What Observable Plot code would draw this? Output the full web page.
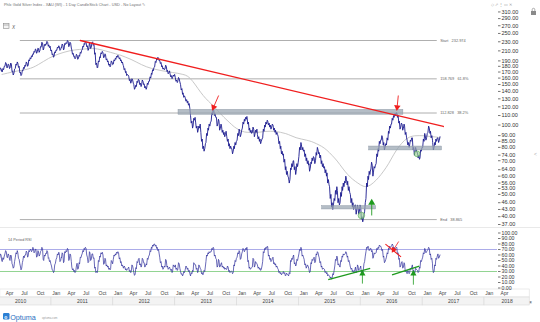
<!DOCTYPE html>
<html>
<head>
<meta charset="utf-8">
<script src="https://cdn.jsdelivr.net/npm/d3@7"></script>
<script src="https://cdn.jsdelivr.net/npm/@observablehq/plot@0.6"></script>
<style>
html,body{margin:0;padding:0;background:#fff;}
#wrap{position:relative;width:540px;height:322px;overflow:hidden;background:#fff;font-family:"Liberation Sans",Arial,sans-serif;}
#wrap > svg{position:absolute;left:0;top:0;}
</style>
</head>
<body>
<div id="wrap"></div>
<script>
// ---------- DATA ----------
const titleText = "Phlx Gold Silver Index - XAU (WI) - 1 Day CandleStick Chart - USD - No Layout";

// price samples: 8 per month from Mar 2010
const price2010 = [172,177,176,171,170,176,174,180, 180,187,185,177,178,184,183,176, 177,186,184,171,172,165,168,175, 176,184,182,188,186,178,180,169, 170,164,166,173,172,178,176,182, 180,188,186,180,182,192,190,196, 194,200,198,204,203,209,207,214, 213,205,208,216,215,207,210,219, 218,229,227,212,214,224,221,225, 224,231,229,220,223,217,220,210];
const price2011 = [212,202,204,197,199,208,206,212, 211,218,216,221,219,211,213,218, 217,225,223,212,214,226,224,228, 226,233,231,219,221,229,227,216, 212,203,205,198,199,194,196,203, 201,193,195,201,199,207,205,211, 212,220,218,226,224,231,229,219, 221,211,214,227,225,215,218,228, 230,222,224,203,206,183,186,177, 178,190,188,198,196,206,204,209, 206,196,198,204,202,192,194,188, 190,182,184,179,181,190,188,183];
const price2012 = [184,192,190,195,193,199,197,201, 199,194,196,190,192,186,188,182, 181,174,176,169,171,164,166,165, 163,156,158,152,154,159,157,152, 150,143,145,149,147,155,153,158, 157,150,152,147,149,157,155,150, 151,145,147,143,145,152,150,155, 155,162,160,168,166,174,172,178, 179,189,187,194,192,197,195,190, 191,185,187,179,181,175,177,174, 175,182,180,171,173,167,169,172, 167,162,164,159,161,165,163,166];
const price2013 = [161,155,157,153,155,161,159,154, 150,142,144,136,138,132,134,132, 131,127,129,125,127,122,124,118, 110,102,104,97,99,107,105,108, 103,97,99,93,95,99,97,101, 93,85,87,79,81,77,79,83, 84,92,90,97,95,101,99,103, 104,113,111,118,116,110,112,108, 108,99,101,106,104,95,97,101, 99,93,95,91,93,89,91,94, 89,85,87,81,83,79,81,79, 79,75,77,81,79,84,82,85];
const price2014 = [86,92,90,96,94,89,91,95, 97,103,101,106,104,108,106,109, 108,101,103,95,97,93,95,92, 93,98,96,89,91,95,93,96, 91,87,89,85,87,83,85,87, 88,96,94,100,98,103,101,105, 104,100,102,98,100,96,98,101, 100,95,97,93,95,91,93,91, 89,83,85,79,81,75,77,74, 75,69,71,64,66,61,63,60, 59,56,58,65,64,68,66,70, 70,64,66,61,63,68,66,69];
const price2015 = [73,80,78,84,82,78,80,77, 78,73,75,70,72,68,70,67, 68,63,65,69,68,72,70,73, 72,68,70,76,74,80,78,75, 76,72,74,68,70,66,68,65, 66,62,64,60,62,56,58,55, 54,48,50,44,46,43,45,48, 47,52,50,54,52,46,48,45, 46,51,49,54,52,56,54,57, 56,60,58,55,57,52,54,51, 50,46,48,44,46,43,44,45, 45,41,43,45,44,41,42,45];
const price2016 = [44,39,40,38,39,41,42,46, 48,56,54,60,58,63,61,64, 64,69,67,60,62,66,65,67, 68,75,73,79,77,85,83,86, 86,90,88,82,84,78,80,83, 82,88,86,94,92,99,97,101, 101,107,105,110,108,112,110,113, 113,108,110,102,104,96,98,102, 101,95,97,101,99,91,93,88, 86,82,84,80,82,86,85,88, 88,78,80,74,76,80,78,76, 76,72,74,71,72,78,77,80];
const price2017 = [80,87,85,92,90,86,88,92, 93,99,97,92,94,88,90,86, 84,78,80,84,82,87,85,88, 88,84,86,89];

// 14-period RSI samples, same dates as price
const rsi2010 = [55,62,60,50,48,55,52,58, 62,68,66,56,55,62,60,52, 50,60,58,44,42,36,38,48, 55,64,62,68,64,54,52,44, 40,33,36,46,50,58,55,60, 60,67,65,56,58,68,66,70, 70,66,68,74,72,64,66,71, 70,56,58,68,66,58,60,66, 68,74,72,52,50,60,58,63, 62,68,66,54,55,48,50,44];
const rsi2011 = [40,33,32,28,30,42,45,52, 55,62,60,65,62,48,50,56, 55,64,62,46,48,66,64,68, 66,72,70,50,52,62,60,48, 38,33,35,30,32,28,30,40, 45,34,36,46,44,56,55,60, 62,68,66,72,70,74,72,60, 56,46,48,66,64,50,52,62, 62,54,55,36,38,28,30,28, 33,50,48,58,56,64,62,65, 60,43,45,54,52,40,42,38, 40,34,36,33,35,50,48,44];
const rsi2012 = [52,60,58,62,60,65,63,66, 64,53,55,46,48,40,42,38, 36,40,38,33,35,32,34,36, 38,30,32,28,30,42,40,34, 28,23,25,37,35,48,46,52, 54,42,44,38,40,54,52,46, 46,38,40,44,42,54,52,58, 60,68,66,74,72,78,76,80, 80,76,78,72,74,68,70,62, 56,46,48,38,40,34,36,40, 38,52,50,38,40,34,36,38, 35,32,34,28,30,42,40,38];
const rsi2013 = [42,34,36,32,34,46,44,36, 30,25,26,22,24,30,28,32, 34,40,38,34,36,30,32,26, 22,28,26,32,30,46,44,42, 42,34,36,28,30,42,40,36, 34,26,28,24,26,32,30,40, 48,60,58,64,62,66,64,66, 66,72,70,74,72,58,60,54, 52,38,40,52,50,38,40,44, 46,38,40,36,38,34,36,34, 34,40,38,30,32,28,30,31, 30,26,28,42,40,50,48,54];
const rsi2014 = [56,64,62,68,66,52,54,62, 66,72,70,66,68,72,70,74, 72,48,50,36,38,34,36,37, 38,54,52,38,40,48,46,44, 42,36,38,34,36,32,34,40, 48,66,64,72,70,74,72,76, 75,58,60,52,54,48,50,54, 56,44,46,42,44,38,40,36, 34,28,30,26,28,24,26,28, 30,26,28,22,23,27,25,24, 22,28,26,50,48,54,52,58, 60,44,46,40,42,52,50,56];
const rsi2015 = [62,70,68,74,72,58,60,56, 52,42,44,36,38,42,40,36, 34,28,30,46,44,52,50,54, 56,46,48,62,60,66,64,58, 55,46,48,38,40,34,36,35, 34,28,30,26,28,22,24,23, 22,18,20,16,18,26,24,32, 40,52,50,58,56,42,44,40, 38,50,48,58,56,62,60,61, 62,66,64,56,58,48,50,44, 38,34,36,30,32,28,30,34, 38,28,30,42,40,32,34,36];
const rsi2016 = [40,28,30,26,32,44,48,58, 66,74,72,76,74,68,70,72, 72,66,68,54,56,64,62,63, 64,72,70,74,72,78,76,76, 74,68,70,56,58,46,48,52, 56,64,62,72,70,76,74,75, 76,80,78,72,74,70,72,73, 74,62,64,52,54,38,40,46, 48,36,38,46,44,30,32,28, 26,32,30,26,28,36,34,38, 42,30,32,26,28,36,34,33, 32,28,30,38,36,50,48,52];
const rsi2017 = [56,64,62,72,70,64,66,68, 70,74,72,60,62,52,54,44, 36,28,30,42,40,54,52,58, 62,54,56,60];

// moving average, one value per month from Mar 2010
const ma2010 = [166,168,170,172,173,175,178,183,189,195];
const ma2011 = [200,204,207,210,212,213,214,215,215,213,210,207];
const ma2012 = [204,201,197,193,188,183,179,176,174,172,171,169];
const ma2013 = [168,166,164,155,144,134,127,121,114,108,103,98];
const ma2014 = [95,93,93,93,93,94,94,94,93,92,90,88];
const ma2015 = [87,86,85,83,81,78,74,70,65,61,58,56];
const ma2016 = [54,54,56,59,63,68,75,81,86,89,90,90];
const ma2017 = [90,89,89,88];

const mainTicks = [310,290,270,250,230,210,190,180,170,160,150,140,130,120,110,100,90,85,80,74,70,64,60,56,53,50,46,43,40,37];
const rsiTicks = [0,10,20,30,40,50,60,70,80,90,100];
const rsiLevels = [70, 30];

const fibLevels = [232.974, 158.769, 112.828, 38.865];
const fibNames = ["Start   232.974", "158.769   61.8%", "112.828   38.2%", "End   38.865"];
const fibFrom = "2010-07-01", fibTo = "2017-03-28", fibLabelAt = "2017-04-14";

const zoneFrom = ["2013-01-20", "2016-02-20", "2015-05-18"];
const zoneTo   = ["2016-09-09", "2017-04-25", "2016-04-01"];
const zoneHigh = [116.5, 80.7, 44.5];
const zoneLow  = [110.8, 77.6, 43.0];

const trendDates = ["2011-06-20", "2017-05-03"];
const trendValues = [232.974, 98.6];

const circleDates = ["2016-01-05", "2016-11-29"];
const circleValues = [40.5, 75.0];
const circleRadius = [5.6, 4.4];

const years = [2010,2011,2012,2013,2014,2015,2016,2017,2018];
const monthTicks = ["2010-04","2010-07","2010-10","2011-01","2011-04","2011-07","2011-10","2012-01","2012-04","2012-07","2012-10","2013-01","2013-04","2013-07","2013-10","2014-01","2014-04","2014-07","2014-10","2015-01","2015-04","2015-07","2015-10","2016-01","2016-04","2016-07","2016-10","2017-01","2017-04","2017-07","2017-10","2018-01","2018-04"];

// ---------- BUILD ----------
const D = s => new Date(s.length === 7 ? s + "-01T00:00:00Z" : s + "T00:00:00Z");
const sampleDays = [1, 5, 9, 13, 16, 20, 24, 28];
const sampleDate = i => new Date(Date.UTC(2010, 2 + Math.floor(i / 8), sampleDays[i % 8]));

const priceValues = [...price2010, ...price2011, ...price2012, ...price2013, ...price2014, ...price2015, ...price2016, ...price2017];
const rsiValues = [...rsi2010, ...rsi2011, ...rsi2012, ...rsi2013, ...rsi2014, ...rsi2015, ...rsi2016, ...rsi2017];
const maValues = [...ma2010, ...ma2011, ...ma2012, ...ma2013, ...ma2014, ...ma2015, ...ma2016, ...ma2017];

const priceData = priceValues.map((v, i) => ({date: sampleDate(i), v}));
const rsiData = rsiValues.map((v, i) => ({date: sampleDate(i), v}));
const maData = maValues.map((v, i) => ({date: new Date(Date.UTC(2010, 2 + i, 15)), v}));
const fibData = fibLevels.map((v, i) => ({v, name: fibNames[i], x1: D(fibFrom), x2: D(fibTo), xl: D(fibLabelAt)}));
const zoneData = zoneFrom.map((f, i) => ({x1: D(f), x2: D(zoneTo[i]), y1: zoneLow[i], y2: zoneHigh[i]}));
const trendData = trendDates.map((d, i) => ({date: D(d), v: trendValues[i]}));
const circleData = circleDates.map((d, i) => ({date: D(d), v: circleValues[i], r: circleRadius[i]}));

const mainRedArrows = [
  {x1: D("2013-09-14"), y1: 134.4, x2: D("2013-08-15"), y2: 119.6, rot: 202},
  {x1: D("2016-08-10"), y1: 134.4, x2: D("2016-08-03"), y2: 119.6, rot: 186}
];
const mainGreenArrows = [{x1: D("2016-03-06"), y1: 40.5, x2: D("2016-03-06"), y2: 46, rot: 0}];
const rsiGreenLines = [
  {x1: D("2015-06-23"), y1: 15.2, x2: D("2016-02-26"), y2: 35.7},
  {x1: D("2016-07-04"), y1: 23.8, x2: D("2016-12-12"), y2: 39.8}
];
const rsiRedLines = [{x1: D("2016-05-26"), y1: 79.8, x2: D("2016-08-26"), y2: 56.6}];
const rsiRedArrows = [{x1: D("2016-08-12"), y1: 84.5, x2: D("2016-07-13"), y2: 69.6, rot: 211}];
const rsiGreenArrows = [
  {x1: D("2016-01-11"), y1: 8, x2: D("2016-01-11"), y2: 26, rot: 0},
  {x1: D("2016-11-07"), y1: 6, x2: D("2016-11-07"), y2: 26, rot: 0}
];

const xScale = {type: "utc", domain: [D("2011-01-01"), D("2018-01-01")], range: [51, 484], axis: null};
const baseStyle = {background: "none", fontFamily: "Liberation Sans, Arial, sans-serif", fontSize: "5.5px", overflow: "hidden"};
const RED = "#f01e1e", GREEN = "#1e9a1e";

const mainPlot = Plot.plot({
  width: 540, height: 322, marginLeft: 0, marginRight: 43, marginTop: 0, marginBottom: 0,
  style: baseStyle,
  x: xScale,
  y: {type: "log", domain: [37, 310], range: [224, 11.44], axis: null, label: null},
  marks: [
    Plot.ruleY(fibData, {y: "v", x1: "x1", x2: "x2", stroke: "#9b9b9b", strokeWidth: 0.8}),
    Plot.line(maData, {x: "date", y: "v", stroke: "#c2c2c2", strokeWidth: 0.9, curve: "basis"}),
    Plot.line(priceData, {x: "date", y: "v", stroke: "#1b1b8f", strokeWidth: 0.9}),
    Plot.rect(zoneData, {x1: "x1", x2: "x2", y1: "y1", y2: "y2", fill: "#97a3b0", fillOpacity: 0.72, stroke: "#8793a0", strokeWidth: 0.4}),
    Plot.line(trendData, {x: "date", y: "v", stroke: RED, strokeWidth: 1.3}),
    Plot.dot(circleData, {x: "date", y: "v", r: "r", fill: "#9bd394", fillOpacity: 0.65, stroke: "#55a955", strokeWidth: 0.6}),
    Plot.link(mainRedArrows, {x1: "x1", y1: "y1", x2: "x2", y2: "y2", stroke: RED, strokeWidth: 0.9}),
    Plot.dot(mainRedArrows, {x: "x2", y: "y2", symbol: "triangle", rotate: "rot", r: 2.4, fill: RED, stroke: "none"}),
    Plot.link(mainGreenArrows, {x1: "x1", y1: "y1", x2: "x2", y2: "y2", stroke: GREEN, strokeWidth: 0.9}),
    Plot.dot(mainGreenArrows, {x: "x2", y: "y2", symbol: "triangle", rotate: "rot", r: 2.6, fill: GREEN, stroke: "none"}),
    Plot.text(fibData, {x: "xl", y: "v", text: "name", textAnchor: "start", fontSize: 3.9, fill: "#666"}),
    Plot.axisY({ticks: mainTicks, anchor: "right", tickFormat: d3.format(".2f"), tickSize: 2.5, tickPadding: 1.5, stroke: "#777", fill: "#333", fontSize: 5.5, label: null})
  ]
});

const rsiPlot = Plot.plot({
  width: 540, height: 322, marginLeft: 0, marginRight: 43, marginTop: 229, marginBottom: 34,
  style: baseStyle,
  x: xScale,
  y: {domain: [0, 100], range: [287.5, 232.5], axis: null, label: null},
  marks: [
    Plot.ruleY([rsiLevels[0]], {stroke: "#a3a3e6", strokeWidth: 0.9}),
    Plot.ruleY([rsiLevels[1]], {stroke: "#86cf86", strokeWidth: 0.9}),
    Plot.line(rsiData, {x: "date", y: "v", stroke: "#2a2a9a", strokeWidth: 0.7}),
    Plot.link(rsiGreenLines, {x1: "x1", y1: "y1", x2: "x2", y2: "y2", stroke: GREEN, strokeWidth: 1.3}),
    Plot.link(rsiRedLines, {x1: "x1", y1: "y1", x2: "x2", y2: "y2", stroke: RED, strokeWidth: 1.1}),
    Plot.link(rsiRedArrows, {x1: "x1", y1: "y1", x2: "x2", y2: "y2", stroke: RED, strokeWidth: 0.8}),
    Plot.dot(rsiRedArrows, {x: "x2", y: "y2", symbol: "triangle", rotate: "rot", r: 2.2, fill: RED, stroke: "none"}),
    Plot.link(rsiGreenArrows, {x1: "x1", y1: "y1", x2: "x2", y2: "y2", stroke: GREEN, strokeWidth: 0.8}),
    Plot.dot(rsiGreenArrows, {x: "x2", y: "y2", symbol: "triangle", rotate: "rot", r: 2.3, fill: GREEN, stroke: "none"}),
    Plot.axisY({ticks: rsiTicks, anchor: "right", tickFormat: d3.format(".2f"), tickSize: 2.5, tickPadding: 1.5, stroke: "#777", fill: "#333", fontSize: 5.2, label: null})
  ]
});

const rowStart = D("2010-03-05"), rowEnd = D("2018-09-25");
const yearCells = years.map(y => {
  const s = new Date(Date.UTC(y, 0, 1)), e = new Date(Date.UTC(y + 1, 0, 1));
  const b = e > rowEnd ? rowEnd : e;
  return {label: String(y), start: s, end: b, mid: new Date((+s + +b) / 2)};
});
const monthDates = monthTicks.map(D);
const fmtMonth = d3.utcFormat("%b");

const timePlot = Plot.plot({
  width: 540, height: 322, margin: 0,
  style: baseStyle,
  x: xScale,
  y: {type: "band", domain: ["month", "year"], range: [288.5, 305.5], padding: 0, axis: null, label: null},
  marks: [
    Plot.barX([{a: rowStart, b: rowEnd}], {x1: "a", x2: "b", y: () => "month", fill: "#fff", stroke: "#dedede", strokeWidth: 0.6}),
    Plot.barX(yearCells, {x1: "start", x2: "end", y: () => "year", fill: "#f3f3f3", stroke: "#d9d9d9", strokeWidth: 0.6}),
    Plot.text(monthDates, {x: d => d, y: () => "month", text: d => fmtMonth(d), textAnchor: "start", dx: 0.8, fontSize: 5, fill: "#444"}),
    Plot.text(yearCells, {x: "mid", y: () => "year", text: "label", fontSize: 5, fill: "#444"})
  ]
});

const wrap = document.getElementById("wrap");
const deco = `<svg width="540" height="322" xmlns="http://www.w3.org/2000/svg" font-family="Liberation Sans, Arial, sans-serif">
  <line x1="0" x2="540" y1="227.5" y2="227.5" stroke="#e3e3e3" stroke-width="0.8"/>
  <text x="4" y="6" font-size="3.9" fill="#707070">${titleText} ✎</text>
  <text x="491" y="6" font-size="4" fill="#a0a0a0">◇ ⇗ ⋮ ▭ ✕</text>
  <rect x="531" y="11" width="5" height="4" fill="#8a8a8a"/>
  <path d="M532.2 11 v-1.4 a1.3 1.3 0 0 1 2.6 0 v1.4" fill="none" stroke="#8a8a8a" stroke-width="0.7"/>
  <rect x="3.5" y="23.5" width="5.5" height="5" fill="#f4f4f4" stroke="#8a8a8a" stroke-width="0.6"/>
  <line x1="3.5" x2="9" y1="25" y2="25" stroke="#8a8a8a" stroke-width="0.6"/>
  <text x="12" y="28.5" font-size="4.6" font-style="italic" fill="#555">X</text>
  <text x="534" y="156" font-size="5" fill="#aaa">&lt;</text>
  <text x="8" y="241" font-size="3.8" fill="#666">14 Period RSI</text>
  <text x="519" y="302.5" font-size="3.2" fill="#888">1:3:57 ▣</text>
  <rect x="3" y="313" width="6.5" height="6.5" rx="1.2" fill="#2a7fd4"/>
  <text x="4.3" y="318.6" font-size="5" fill="#fff" font-weight="bold">o</text>
  <text x="10.2" y="319.6" font-size="7.2" fill="#2a6fbf">Optuma</text>
  <text x="42" y="318.6" font-size="2.8" fill="#9a9a9a">optuma.com</text>
</svg>`;
wrap.insertAdjacentHTML("beforeend", deco);
wrap.appendChild(timePlot);
wrap.appendChild(rsiPlot);
wrap.appendChild(mainPlot);
</script>
</body>
</html>
